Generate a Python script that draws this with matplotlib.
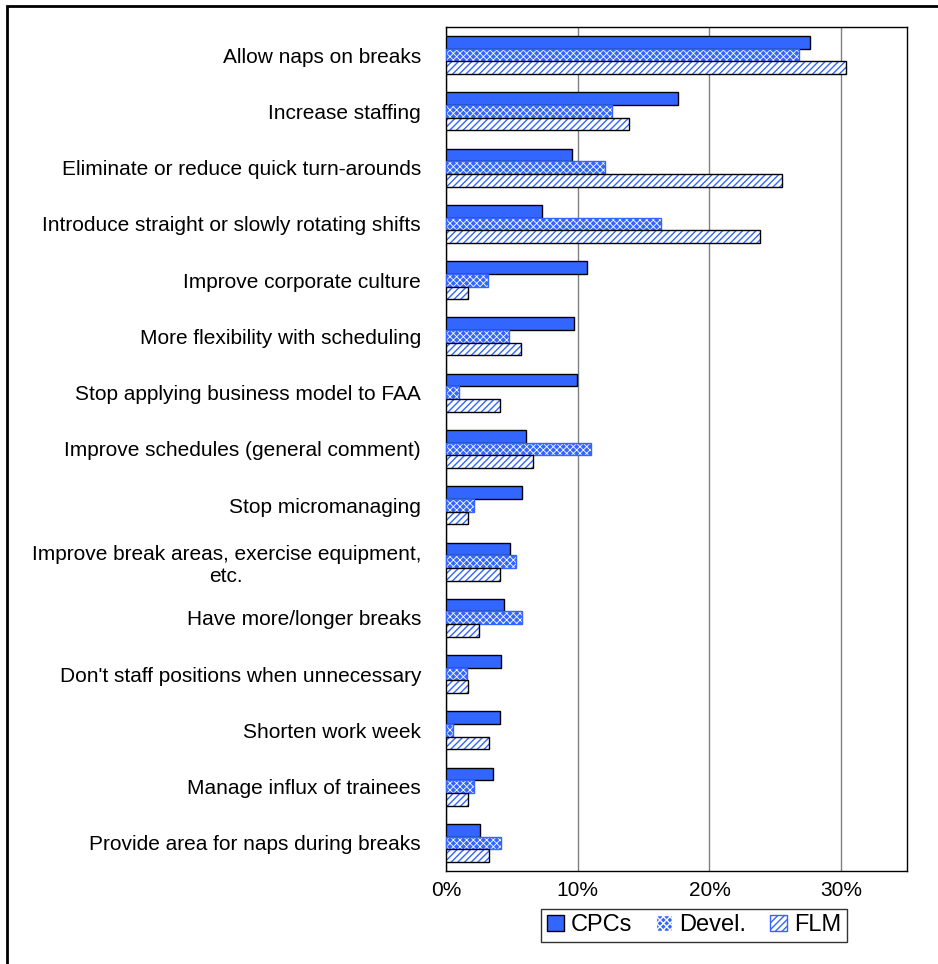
#
# plot.py - fatigue countermeasure suggestions by group
#
import matplotlib
matplotlib.use('Agg')
import matplotlib.pyplot as plt
import matplotlib.patches as mpatches
from matplotlib.ticker import FuncFormatter
import numpy as np

plt.rcParams['font.family'] = ['Liberation Sans', 'DejaVu Sans']
plt.rcParams['hatch.linewidth'] = 1.0

categories = [
    'Allow naps on breaks',
    'Increase staffing',
    'Eliminate or reduce quick turn-arounds',
    'Introduce straight or slowly rotating shifts',
    'Improve corporate culture',
    'More flexibility with scheduling',
    'Stop applying business model to FAA',
    'Improve schedules (general comment)',
    'Stop micromanaging',
    'Improve break areas, exercise equipment,\netc.',
    'Have more/longer breaks',
    "Don't staff positions when unnecessary",
    'Shorten work week',
    'Manage influx of trainees',
    'Provide area for naps during breaks',
]
cpcs = [27.6, 17.6, 9.6, 7.3, 10.7, 9.7, 9.95, 6.1, 5.8, 4.85, 4.4, 4.2, 4.1, 3.6, 2.6]
devel = [26.8, 12.6, 12.1, 16.35, 3.2, 4.8, 1.0, 11.0, 2.1, 5.3, 5.8, 1.6, 0.5, 2.1, 4.2]
flm = [30.4, 13.9, 25.5, 23.8, 1.7, 5.7, 4.1, 6.6, 1.7, 4.1, 2.5, 1.7, 3.25, 1.7, 3.25]

blue = '#3366FF'
h = 0.225
y = np.arange(len(categories))

fig = plt.figure(figsize=(9.38, 9.64), dpi=100)
ax = fig.add_axes([0.4755, 0.0965, 0.4915, 0.8755])

# CPCs: solid blue
ax.barh(y - h, cpcs, height=h, color=blue, edgecolor='black', linewidth=1, zorder=3)
# Devel.: blue checker pattern (fine white lines)
with plt.rc_context({'hatch.linewidth': 0.6}):
    ax.barh(y, devel, height=h, color=blue, edgecolor='white', hatch='xxxxx', linewidth=0, zorder=3)
    h2 = mpatches.Patch(facecolor=blue, edgecolor='white', hatch='xxxxx', label='Devel.')
ax.barh(y, devel, height=h, fill=False, edgecolor=blue, linewidth=1, zorder=3)
# FLM: white with blue diagonal lines
ax.barh(y + h, flm, height=h, color='white', edgecolor=blue, hatch='/////', linewidth=0, zorder=3)
ax.barh(y + h, flm, height=h, fill=False, edgecolor='black', linewidth=1, zorder=3)

ax.set_xlim(0, 35)
ax.set_ylim(len(categories) - 0.5, -0.5)
ax.set_xticks([0, 10, 20, 30])
ax.xaxis.set_major_formatter(FuncFormatter(lambda v, p: '%d%%' % v))
ax.set_yticks(y)
ax.set_yticklabels(categories, multialignment='center')
ax.tick_params(axis='both', length=0, labelsize=15)
ax.tick_params(axis='y', pad=18)
ax.tick_params(axis='x', pad=7)
ax.grid(axis='x', color='#808080', linewidth=1, zorder=0)
ax.set_axisbelow(True)
for s in ax.spines.values():
    s.set_color('black')
    s.set_linewidth(1)

# legend
h1 = mpatches.Patch(facecolor=blue, edgecolor='black', label='CPCs')
h3 = mpatches.Patch(facecolor='white', edgecolor=blue, hatch='/////', label='FLM')
leg = ax.legend(handles=[h1, h2, h3], ncol=3, loc='center',
                bbox_to_anchor=(0.538, -0.0646), fontsize=17,
                frameon=True, fancybox=False, edgecolor='black',
                handlelength=0.7, handleheight=0.7, handletextpad=0.3,
                columnspacing=1.0, borderpad=0.25)
leg.get_frame().set_linewidth(1)

# outer chart border
fig.patches.append(mpatches.Rectangle((7 / 938, -0.05), 1.1, 1 - 6 / 964 + 0.05,
                                      transform=fig.transFigure, fill=False,
                                      edgecolor='black', linewidth=2))

plt.savefig('out.png', dpi=100)
